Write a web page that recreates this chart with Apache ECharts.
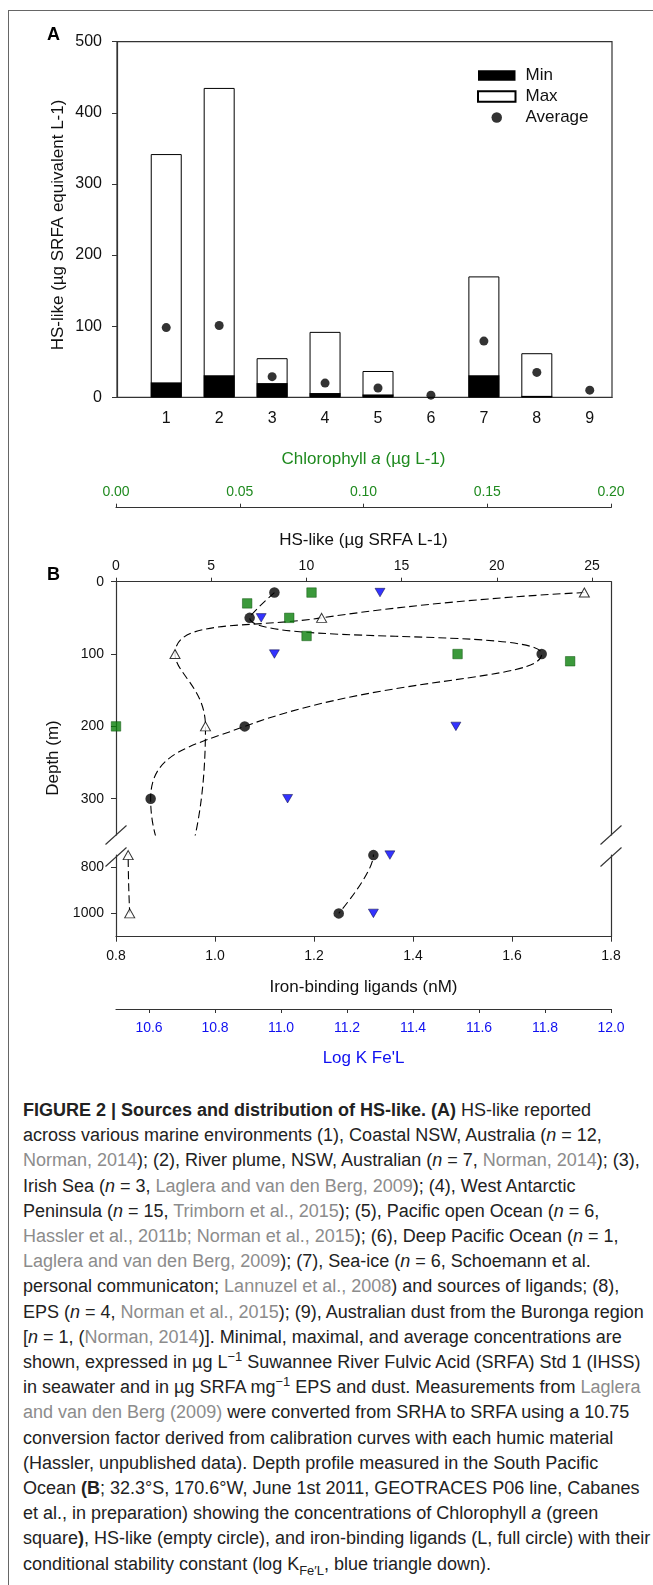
<!DOCTYPE html>
<html lang="en">
<head>
<meta charset="UTF-8">
<title>Figure 2</title>
<script src="https://cdn.jsdelivr.net/npm/echarts@6/dist/echarts.min.js"></script>
<style>
    html, body { margin: 0; padding: 0; background: #fff; overflow: hidden; }
    body { width: 653px; height: 1585px; position: relative; }
    #frame { position: absolute; left: 8px; top: 10px; width: 700px; height: 1700px;
        border-left: 1px solid #666; border-top: 1px solid #666; }
    #main { position: absolute; left: 0; top: 0; width: 653px; height: 1090px; }
    #cap { position: absolute; left: 23px; top: 1098px; white-space: nowrap;
        font-family: "Liberation Sans", Arial, Helvetica, sans-serif; font-size: 18px;
        line-height: 25.2px; color: #222; }
    #cap .r { color: #8c8c8c; }
    #cap sup, #cap sub { font-size: 0.72em; line-height: 0; }
</style>
</head>
<body>
<div id="frame"></div>
<div id="main"></div>
<div id="cap">
<b>FIGURE 2 | Sources and distribution of HS-like. (A)</b> HS-like reported<br>
across various marine environments (1), Coastal NSW, Australia (<i>n</i> = 12,<br>
<span class="r">Norman, 2014</span>); (2), River plume, NSW, Australian (<i>n</i> = 7, <span class="r">Norman, 2014</span>); (3),<br>
Irish Sea (<i>n</i> = 3, <span class="r">Laglera and van den Berg, 2009</span>); (4), West Antarctic<br>
Peninsula (<i>n</i> = 15, <span class="r">Trimborn et al., 2015</span>); (5), Pacific open Ocean (<i>n</i> = 6,<br>
<span class="r">Hassler et al., 2011b; Norman et al., 2015</span>); (6), Deep Pacific Ocean (<i>n</i> = 1,<br>
<span class="r">Laglera and van den Berg, 2009</span>); (7), Sea-ice (<i>n</i> = 6, Schoemann et al.<br>
personal communicaton; <span class="r">Lannuzel et al., 2008</span>) and sources of ligands; (8),<br>
EPS (<i>n</i> = 4, <span class="r">Norman et al., 2015</span>); (9), Australian dust from the Buronga region<br>
[<i>n</i> = 1, (<span class="r">Norman, 2014</span>)]. Minimal, maximal, and average concentrations are<br>
shown, expressed in µg L<sup>−1</sup> Suwannee River Fulvic Acid (SRFA) Std 1 (IHSS)<br>
in seawater and in µg SRFA mg<sup>−1</sup> EPS and dust. Measurements from <span class="r">Laglera</span><br>
<span class="r">and van den Berg (2009)</span> were converted from SRHA to SRFA using a 10.75<br>
conversion factor derived from calibration curves with each humic material<br>
(Hassler, unpublished data). Depth profile measured in the South Pacific<br>
Ocean <b>(B</b>; 32.3°S, 170.6°W, June 1st 2011, GEOTRACES P06 line, Cabanes<br>
et al., in preparation) showing the concentrations of Chlorophyll <i>a</i> (green<br>
square<b>)</b>, HS-like (empty circle), and iron-binding ligands (L, full circle) with their<br>
conditional stability constant (log K<sub>Fe′L</sub>, blue triangle down).
</div>
<script>
    // panel A: HS-like by source
    var sites = [1, 2, 3, 4, 5, 6, 7, 8, 9];
    var minVals = [21, 31, 20, 6, 4, 0, 31, 2, 0];
    var maxVals = [342, 435, 55, 92, 37, '-', 170, 62, '-'];
    var avgVals = [98, 101, 29, 20, 13, 3, 79, 35, 10];
    var ticksA = [0, 100, 200, 300, 400, 500];

    // panel B: depth profile (depth in m)
    var chlDepth = [15, 30, 50, 75, 100, 110, 200];
    var chlVals = [0.079, 0.053, 0.070, 0.077, 0.138, 0.1835, 0.0];
    var hsDepth = [15, 50, 100, 200, 750, 1000];
    var hsVals = [24.6, 10.8, 3.1, 4.7, 0.64, 0.72];
    var ligDepth = [15, 50, 100, 200, 300, 750, 1000];
    var ligVals = [1.12, 1.07, 1.66, 1.06, 0.87, 1.32, 1.25];
    var logkDepth = [15, 50, 100, 200, 300, 750, 1000];
    var logkVals = [11.30, 10.94, 10.98, 11.53, 11.02, 11.33, 11.28];

    var chlTicks = [0, 0.05, 0.10, 0.15, 0.20];
    var hsTicks = [0, 5, 10, 15, 20, 25];
    var ligTicks = [0.8, 1.0, 1.2, 1.4, 1.6, 1.8];
    var logkTicks = [10.6, 10.8, 11.0, 11.2, 11.4, 11.6, 11.8, 12.0];
    var depthTicksTop = [0, 100, 200, 300];
    var depthTicksBottom = [800, 1000];

    var FONT = '"Liberation Sans", Arial, Helvetica, sans-serif';
    var AX = '#333';
    var GREEN = '#1f8a1f';
    var BLUE = '#1010f0';

    function pairs(xs, ys) {
        return xs.map(function (x, i) { return [x, ys[i]]; });
    }
    // profile points as [value, depth]
    function prof(vals, depths, lo, hi) {
        var out = [];
        depths.forEach(function (d, i) {
            if (lo == null || (d >= lo && d <= hi)) out.push([vals[i], d]);
        });
        return out;
    }
    function plain(v) { return String(v); }

    function valAxis(o) {
        var base = {
            type: 'value',
            splitLine: {show: false},
            axisLine: {show: true, onZero: false, lineStyle: {color: AX, width: 1.2}},
            axisTick: {show: true, length: 5, lineStyle: {color: AX}},
            axisLabel: {fontFamily: FONT, fontSize: 14, color: '#111', formatter: plain},
            nameTextStyle: {fontFamily: FONT, fontSize: 17, color: '#111'}
        };
        for (var k in o) {
            if (typeof o[k] === 'object' && !Array.isArray(o[k]) && base[k]) {
                for (var j in o[k]) base[k][j] = o[k][j];
            } else {
                base[k] = o[k];
            }
        }
        return base;
    }
    function hidden(grid, min, max) {
        return {type: 'value', gridIndex: grid, min: min, max: max, show: false};
    }

    var dash = {color: '#000', width: 1.1, type: [8, 4]};

    var option = {
        animation: false,
        grid: [
            {left: 117, top: 41.7, width: 495, height: 355.6, show: true, borderColor: AX, borderWidth: 1.2},
            {left: 116, top: 581.7, width: 495, height: 253.2},
            {left: 116, top: 855.1, width: 495, height: 81.6}
        ],
        legend: {
            orient: 'vertical', left: 477, top: 67, padding: 0,
            itemWidth: 37.5, itemHeight: 10.5, itemGap: 4,
            textStyle: {fontFamily: FONT, fontSize: 17, color: '#111', padding: [0, 0, 0, 5]},
            data: [{name: 'Min', icon: 'rect'}, {name: 'Max', icon: 'rect'}, {name: 'Average', icon: 'circle'}]
        },
        xAxis: [
            valAxis({gridIndex: 0, min: 0.07, max: 9.42,
                axisTick: {show: false},
                axisLabel: {customValues: sites, margin: 13, fontSize: 16}}),
            valAxis({gridIndex: 1, position: 'top', min: 0, max: 26,
                name: 'HS-like (µg SRFA L-1)', nameLocation: 'middle', nameGap: 33,
                axisTick: {customValues: hsTicks, length: 4},
                axisLabel: {customValues: hsTicks, margin: 9}}),
            valAxis({gridIndex: 1, position: 'top', offset: 74, min: 0, max: 0.2,
                name: '{r|Chlorophyll }{i|a}{r| (µg L-1)}', nameLocation: 'middle', nameGap: 40,
                axisTick: {customValues: chlTicks, length: 4},
                axisLabel: {customValues: chlTicks, margin: 9, color: GREEN,
                    formatter: function (v) { return v.toFixed(2); }},
                nameTextStyle: {rich: {
                    r: {fontFamily: FONT, fontSize: 17, color: GREEN},
                    i: {fontFamily: FONT, fontSize: 17, color: GREEN, fontStyle: 'italic'}
                }}}),
            hidden(1, 0.8, 1.8),
            hidden(1, 10.5, 12),
            valAxis({gridIndex: 2, position: 'bottom', min: 0.8, max: 1.8,
                name: 'Iron-binding ligands (nM)', nameLocation: 'middle', nameGap: 42,
                axisTick: {customValues: ligTicks},
                axisLabel: {customValues: ligTicks, margin: 12,
                    formatter: function (v) { return v.toFixed(1); }}}),
            valAxis({gridIndex: 2, position: 'bottom', offset: 72.3, min: 10.5, max: 12,
                name: "Log K Fe'L", nameLocation: 'middle', nameGap: 41,
                axisTick: {customValues: logkTicks, length: 4},
                axisLabel: {customValues: logkTicks, margin: 12, color: BLUE,
                    formatter: function (v) { return v.toFixed(1); }},
                nameTextStyle: {color: BLUE}}),
            hidden(2, 0, 26)
        ],
        yAxis: [
            valAxis({gridIndex: 0, min: 0, max: 500,
                axisTick: {customValues: ticksA},
                axisLabel: {customValues: ticksA, margin: 15, fontSize: 16}}),
            valAxis({gridIndex: 1, min: 0, max: 350, inverse: true,
                axisTick: {customValues: depthTicksTop},
                axisLabel: {customValues: depthTicksTop, margin: 12}}),
            valAxis({gridIndex: 1, min: 0, max: 350, inverse: true, position: 'right',
                axisTick: {show: false}, axisLabel: {show: false}}),
            valAxis({gridIndex: 2, min: 750, max: 1100, inverse: true,
                axisTick: {customValues: depthTicksBottom},
                axisLabel: {customValues: depthTicksBottom, margin: 12}}),
            valAxis({gridIndex: 2, min: 750, max: 1100, inverse: true, position: 'right',
                axisTick: {show: false}, axisLabel: {show: false}})
        ],
        series: [
            {name: 'Max', type: 'bar', xAxisIndex: 0, yAxisIndex: 0, barWidth: 31, barGap: '-100%',
                data: pairs(sites, maxVals),
                itemStyle: {color: '#fff', borderColor: '#000', borderWidth: 1}},
            {name: 'Min', type: 'bar', xAxisIndex: 0, yAxisIndex: 0, barWidth: 31, barGap: '-100%',
                data: pairs(sites, minVals),
                itemStyle: {color: '#000'}},
            {name: 'Average', type: 'scatter', xAxisIndex: 0, yAxisIndex: 0, symbolSize: 9,
                data: pairs(sites, avgVals), itemStyle: {color: '#000'}},

            // dashed profiles, clipped by each depth segment
            {type: 'line', xAxisIndex: 3, yAxisIndex: 1, data: prof(ligVals, ligDepth),
                smooth: 0.5, symbol: 'none', clip: true, lineStyle: dash, z: 1},
            {type: 'line', xAxisIndex: 1, yAxisIndex: 1, data: prof(hsVals, hsDepth),
                smooth: 0.5, symbol: 'none', clip: true, lineStyle: dash, z: 1},
            {type: 'line', xAxisIndex: 5, yAxisIndex: 3, data: prof(ligVals, ligDepth),
                smooth: 0.5, symbol: 'none', clip: true, lineStyle: dash, z: 1},
            {type: 'line', xAxisIndex: 7, yAxisIndex: 3, data: prof(hsVals, hsDepth),
                smooth: 0.5, symbol: 'none', clip: true, lineStyle: dash, z: 1},

            {type: 'scatter', xAxisIndex: 2, yAxisIndex: 1, data: prof(chlVals, chlDepth, 0, 350),
                symbol: 'rect', symbolSize: 9.5, clip: false,
                itemStyle: {color: '#0a7f0a', borderColor: '#064f06', borderWidth: 0.6}},
            {type: 'scatter', xAxisIndex: 1, yAxisIndex: 1, data: prof(hsVals, hsDepth, 0, 350),
                symbol: 'triangle', symbolSize: [10, 9], clip: false,
                itemStyle: {color: '#fff', borderColor: '#000', borderWidth: 1}},
            {type: 'scatter', xAxisIndex: 7, yAxisIndex: 3, data: prof(hsVals, hsDepth, 750, 1100),
                symbol: 'triangle', symbolSize: [10, 9], clip: false,
                itemStyle: {color: '#fff', borderColor: '#000', borderWidth: 1}},
            {type: 'scatter', xAxisIndex: 3, yAxisIndex: 1, data: prof(ligVals, ligDepth, 0, 350),
                symbol: 'circle', symbolSize: 10.5, clip: false, itemStyle: {color: '#000'}},
            {type: 'scatter', xAxisIndex: 5, yAxisIndex: 3, data: prof(ligVals, ligDepth, 750, 1100),
                symbol: 'circle', symbolSize: 10.5, clip: false, itemStyle: {color: '#000'}},
            {type: 'scatter', xAxisIndex: 4, yAxisIndex: 1, data: prof(logkVals, logkDepth, 0, 350),
                symbol: 'triangle', symbolRotate: 180, symbolSize: [10, 8.5], clip: false,
                itemStyle: {color: '#0000ff', borderColor: '#000030', borderWidth: 0.6}},
            {type: 'scatter', xAxisIndex: 6, yAxisIndex: 3, data: prof(logkVals, logkDepth, 750, 1100),
                symbol: 'triangle', symbolRotate: 180, symbolSize: [10, 8.5], clip: false,
                itemStyle: {color: '#0000ff', borderColor: '#000030', borderWidth: 0.6}}
        ]
    };

    var chart = echarts.init(document.getElementById('main'));
    chart.setOption(option);

    // panel letters, rotated titles, axis-break marks
    var g = [
        {type: 'text', x: 47, y: 35, style: {text: 'A', font: 'bold 18px ' + FONT, fill: '#000',
            align: 'left', verticalAlign: 'middle'}},
        {type: 'text', x: 47, y: 575, style: {text: 'B', font: 'bold 18px ' + FONT, fill: '#000',
            align: 'left', verticalAlign: 'middle'}},
        {type: 'text', x: 58, y: 225, rotation: Math.PI / 2,
            style: {text: 'HS-like (µg SRFA equivalent L-1)', font: '17px ' + FONT, fill: '#111',
                align: 'center', verticalAlign: 'middle'}},
        {type: 'text', x: 53, y: 758, rotation: Math.PI / 2,
            style: {text: 'Depth (m)', font: '17px ' + FONT, fill: '#111',
                align: 'center', verticalAlign: 'middle'}}
    ];
    [116, 611].forEach(function (x0) {
        [835, 857].forEach(function (y0) {
            g.push({type: 'line', shape: {x1: x0 - 10.5, y1: y0 + 9.5, x2: x0 + 10.5, y2: y0 - 9.5},
                style: {stroke: AX, lineWidth: 1.1}});
        });
    });
    chart.setOption({graphic: g});
</script>
</body>
</html>
